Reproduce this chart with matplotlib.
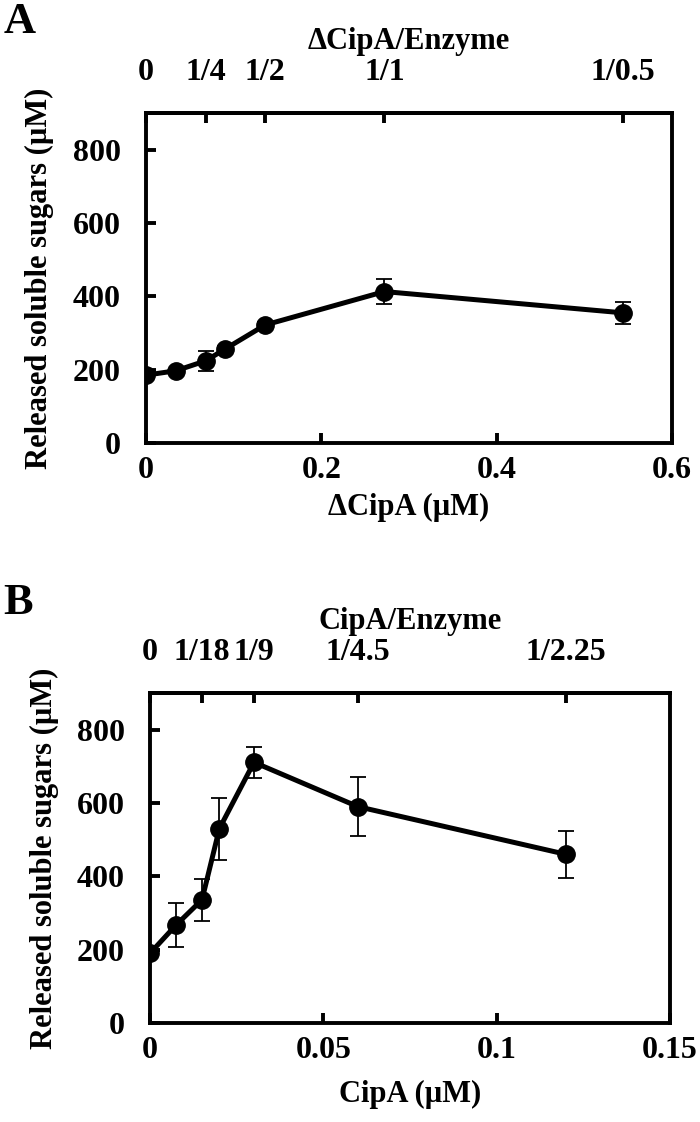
import matplotlib
matplotlib.use("Agg")
import matplotlib.pyplot as plt

# panel A: delta CipA
a_x = [0, 0.034, 0.068, 0.090, 0.136, 0.272, 0.544]
a_y = [185, 197, 224, 256, 322, 413, 355]
a_err = [6, 6, 28, 8, 8, 35, 30]
a_top_pos = [0, 0.068, 0.136, 0.272, 0.544]
a_top_lab = ["0", "1/4", "1/2", "1/1", "1/0.5"]

# panel B: CipA
b_x = [0, 0.0075, 0.015, 0.020, 0.030, 0.060, 0.120]
b_y = [190, 267, 336, 530, 711, 590, 460]
b_err = [6, 61, 57, 85, 43, 80, 64]
b_top_pos = [0, 0.015, 0.030, 0.060, 0.120]
b_top_lab = ["0", "1/18", "1/9", "1/4.5", "1/2.25"]

y_ticks = [0, 200, 400, 600, 800]

plt.rcParams['font.family'] = ['Liberation Serif', 'DejaVu Serif']
plt.rcParams['font.weight'] = 'bold'
fs = 23
lfs = 22

fig = plt.figure(figsize=(7, 11.22), dpi=100)


def panel(rect, x, y, err, xlim, xticks, xticklabels, top_pos, top_lab, xlabel, toplabel,
          letter, letter_y, xlabpad):
    ax = fig.add_axes(rect)
    ax.errorbar(x, y, yerr=err, color='black', lw=3.6, marker='o', ms=12.5,
                ecolor='black', elinewidth=1.3, capsize=6, capthick=1.3, zorder=3)
    ax.set_xlim(*xlim)
    ax.set_ylim(0, 900)
    ax.set_yticks(y_ticks)
    ax.set_xticks(xticks)
    ax.set_xticklabels(xticklabels)
    for s in ax.spines.values():
        s.set_linewidth(2.8)
    ax.tick_params(axis='y', direction='in', length=7, width=2.8, pad=18, labelsize=fs)
    ax.tick_params(axis='x', direction='in', length=7, width=2.8, pad=9, labelsize=fs)
    for lab in ax.get_xticklabels() + ax.get_yticklabels():
        lab.set_fontweight('bold')
    ax.set_ylabel("Released soluble sugars (µM)", fontsize=lfs, fontweight='bold')
    ax.yaxis.set_label_coords(-0.175, 0.5)
    ax.set_xlabel(xlabel, fontsize=lfs, fontweight='bold', labelpad=xlabpad)

    top = ax.secondary_xaxis('top')
    top.set_xticks(top_pos)
    top.set_xticklabels(top_lab)
    top.tick_params(direction='in', length=7, width=2.8, pad=19, labelsize=fs)
    for lab in top.get_xticklabels():
        lab.set_fontweight('bold')
    top.spines['top'].set_linewidth(2.8)
    top.set_xlabel(toplabel, fontsize=lfs, fontweight='bold', labelpad=6)

    fig.text(0.005, letter_y, letter, fontsize=32, fontweight='bold',
             ha='left', va='center')
    return ax


panel([146 / 700, 1 - 443 / 1122, 526 / 700, 330 / 1122], a_x, a_y, a_err,
      (0, 0.6), [0, 0.2, 0.4, 0.6], ["0", "0.2", "0.4", "0.6"],
      a_top_pos, a_top_lab, "ΔCipA (µM)", "ΔCipA/Enzyme", "A", 1 - 22 / 1122, 6)

panel([150 / 700, 1 - 1023 / 1122, 520 / 700, 330 / 1122], b_x, b_y, b_err,
      (0, 0.15), [0, 0.05, 0.1, 0.15], ["0", "0.05", "0.1", "0.15"],
      b_top_pos, b_top_lab, "CipA (µM)", "CipA/Enzyme", "B", 1 - 603 / 1122, 11)

fig.savefig("out.png", dpi=100)
